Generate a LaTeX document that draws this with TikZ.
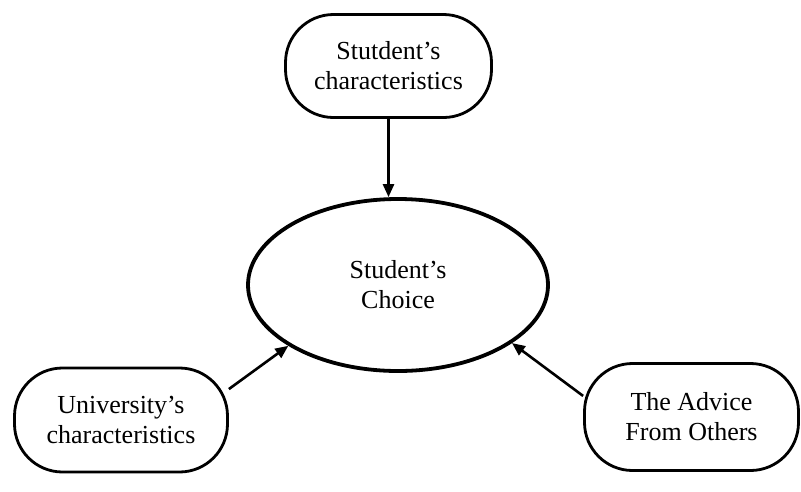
\documentclass[tikz,border=0pt]{standalone}
\usepackage{fontspec}
\setmainfont{Liberation Serif}
\usetikzlibrary{arrows.meta,shapes.geometric}
\tikzset{
  factor/.style={draw=black, line width=2.8pt, rounded corners=48pt, align=center,
    inner sep=0pt, font=\fontsize{26}{30}\selectfont},
  choice/.style={draw=black, line width=3.8pt, ellipse, align=center, inner sep=0pt,
    font=\fontsize{26}{30}\selectfont},
  link/.style={line width=2.6pt, -{Triangle[length=13pt,width=11pt]}}
}
\begin{document}
\begin{tikzpicture}[x=1pt,y=-1pt]
\useasboundingbox (0,0) rectangle (801,491);
\node[factor, minimum width=206pt, minimum height=103pt] (top) at (388.5,66) {Stutdent’s\\characteristics};
\node[choice, minimum width=300pt, minimum height=172pt] (ell) at (398,285) {Student’s\\Choice};
\node[factor, minimum width=213pt, minimum height=104pt] (left) at (121,420) {University’s\\characteristics};
\node[factor, minimum width=214pt, minimum height=107pt] (right) at (691.5,417) {The Advice\\From Others};
\draw[link] (top.south) -- (top.south |- ell.north);
\draw[link] (left.16) -- (ell.209);
\draw[link] (right.169) -- (ell.333);
\end{tikzpicture}
\end{document}
